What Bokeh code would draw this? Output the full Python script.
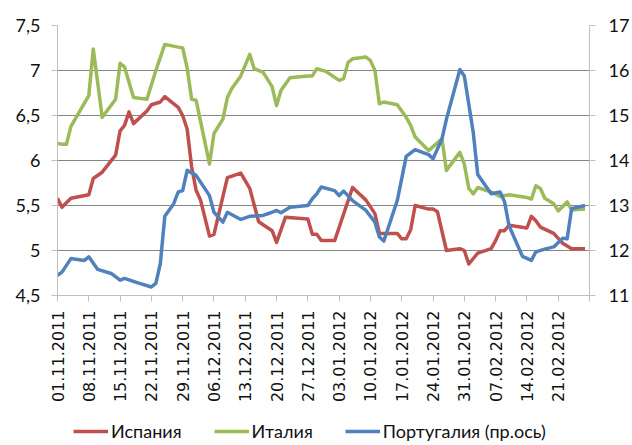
import pandas as pd
from bokeh.plotting import figure
from bokeh.layouts import column
from bokeh.models import Range1d, LinearAxis, FixedTicker, DatetimeTickFormatter, Legend, LegendItem
from bokeh.embed import file_html
from bokeh.resources import INLINE

# ---------------- data ----------------
spain_dates = ["2011-11-01", "2011-11-02", "2011-11-04", "2011-11-08", "2011-11-09", "2011-11-11",
               "2011-11-14", "2011-11-15", "2011-11-16", "2011-11-17", "2011-11-18", "2011-11-21",
               "2011-11-22", "2011-11-24", "2011-11-25", "2011-11-28", "2011-11-29", "2011-11-30",
               "2011-12-01", "2011-12-02", "2011-12-03", "2011-12-05", "2011-12-06", "2011-12-09",
               "2011-12-12", "2011-12-14", "2011-12-16", "2011-12-19", "2011-12-20", "2011-12-22",
               "2011-12-27", "2011-12-28", "2011-12-29", "2011-12-30", "2012-01-02", "2012-01-06",
               "2012-01-09", "2012-01-11", "2012-01-12", "2012-01-16", "2012-01-17", "2012-01-18",
               "2012-01-19", "2012-01-20", "2012-01-23", "2012-01-24", "2012-01-25", "2012-01-27",
               "2012-01-30", "2012-01-31", "2012-02-01", "2012-02-03", "2012-02-06", "2012-02-07",
               "2012-02-08", "2012-02-09", "2012-02-10", "2012-02-14", "2012-02-15", "2012-02-16",
               "2012-02-17", "2012-02-20", "2012-02-22", "2012-02-24", "2012-02-27"]
spain_values = [5.58, 5.48, 5.58, 5.62, 5.80, 5.87,
                6.06, 6.33, 6.39, 6.54, 6.41, 6.55,
                6.62, 6.65, 6.71, 6.59, 6.50, 6.35,
                5.93, 5.67, 5.56, 5.16, 5.18, 5.81,
                5.86, 5.69, 5.32, 5.22, 5.09, 5.37,
                5.35, 5.18, 5.18, 5.11, 5.11, 5.70,
                5.56, 5.41, 5.19, 5.19, 5.13, 5.13,
                5.23, 5.50, 5.46, 5.46, 5.43, 5.00,
                5.02, 5.00, 4.85, 4.97, 5.02, 5.11,
                5.22, 5.22, 5.28, 5.25, 5.38, 5.33,
                5.26, 5.19, 5.08, 5.02, 5.02]

italy_dates = ["2011-11-01", "2011-11-02", "2011-11-03", "2011-11-04", "2011-11-08", "2011-11-09",
               "2011-11-11", "2011-11-14", "2011-11-15", "2011-11-16", "2011-11-18", "2011-11-21",
               "2011-11-23", "2011-11-25", "2011-11-28", "2011-11-29", "2011-11-30", "2011-12-01",
               "2011-12-02", "2011-12-05", "2011-12-06", "2011-12-08", "2011-12-09", "2011-12-10",
               "2011-12-12", "2011-12-14", "2011-12-15", "2011-12-17", "2011-12-19", "2011-12-20",
               "2011-12-21", "2011-12-23", "2011-12-27", "2011-12-28", "2011-12-29", "2011-12-31",
               "2012-01-03", "2012-01-04", "2012-01-05", "2012-01-06", "2012-01-09", "2012-01-10",
               "2012-01-11", "2012-01-12", "2012-01-13", "2012-01-16", "2012-01-18", "2012-01-19",
               "2012-01-20", "2012-01-23", "2012-01-26", "2012-01-27", "2012-01-30", "2012-01-31",
               "2012-02-01", "2012-02-02", "2012-02-03", "2012-02-06", "2012-02-08", "2012-02-10",
               "2012-02-14", "2012-02-15", "2012-02-16", "2012-02-17", "2012-02-18", "2012-02-20",
               "2012-02-21", "2012-02-23", "2012-02-24", "2012-02-27"]
italy_values = [6.19, 6.18, 6.18, 6.38, 6.72, 7.24,
                6.48, 6.68, 7.08, 7.04, 6.70, 6.68,
                7.00, 7.29, 7.26, 7.25, 7.03, 6.68,
                6.67, 5.96, 6.30, 6.46, 6.70, 6.80,
                6.94, 7.18, 7.02, 6.98, 6.82, 6.61,
                6.78, 6.92, 6.94, 6.94, 7.02, 6.99,
                6.89, 6.91, 7.09, 7.13, 7.15, 7.11,
                7.00, 6.63, 6.65, 6.62, 6.48, 6.39,
                6.26, 6.11, 6.24, 5.89, 6.09, 5.96,
                5.69, 5.63, 5.70, 5.65, 5.60, 5.62,
                5.59, 5.57, 5.72, 5.69, 5.58, 5.52,
                5.44, 5.54, 5.45, 5.46]

portugal_dates = ["2011-11-01", "2011-11-02", "2011-11-04", "2011-11-07", "2011-11-08", "2011-11-10",
                  "2011-11-13", "2011-11-15", "2011-11-16", "2011-11-19", "2011-11-22", "2011-11-23",
                  "2011-11-24", "2011-11-25", "2011-11-27", "2011-11-28", "2011-11-29", "2011-11-30",
                  "2011-12-02", "2011-12-05", "2011-12-06", "2011-12-08", "2011-12-09", "2011-12-12",
                  "2011-12-14", "2011-12-17", "2011-12-19", "2011-12-20", "2011-12-21", "2011-12-23",
                  "2011-12-27", "2011-12-28", "2011-12-29", "2011-12-30", "2012-01-02", "2012-01-03",
                  "2012-01-04", "2012-01-06", "2012-01-09", "2012-01-11", "2012-01-12", "2012-01-13",
                  "2012-01-16", "2012-01-18", "2012-01-20", "2012-01-23", "2012-01-24", "2012-01-26",
                  "2012-01-27", "2012-01-30", "2012-01-31", "2012-02-02", "2012-02-03", "2012-02-06",
                  "2012-02-08", "2012-02-09", "2012-02-10", "2012-02-13", "2012-02-15", "2012-02-16",
                  "2012-02-18", "2012-02-20", "2012-02-22", "2012-02-23", "2012-02-24", "2012-02-27"]
portugal_values = [11.45, 11.52, 11.82, 11.78, 11.86, 11.58,
                   11.49, 11.34, 11.38, 11.28, 11.19, 11.27,
                   11.71, 12.76, 13.04, 13.30, 13.33, 13.78,
                   13.67, 13.22, 12.85, 12.63, 12.85, 12.69,
                   12.76, 12.78, 12.85, 12.89, 12.84, 12.96,
                   13.00, 13.15, 13.26, 13.41, 13.33, 13.22,
                   13.32, 13.11, 12.89, 12.63, 12.30, 12.21,
                   13.11, 14.09, 14.24, 14.13, 14.04, 14.48,
                   14.92, 16.02, 15.88, 14.62, 13.69, 13.26,
                   13.30, 13.08, 12.55, 11.87, 11.78, 11.97,
                   12.03, 12.08, 12.27, 12.26, 12.93, 13.00]

series_names = ["Испания", "Италия", "Португалия (пр.ось)"]
series_colors = ["#C0504D", "#9BBB59", "#4F81BD"]

x_tick_dates = ["2011-11-01", "2011-11-08", "2011-11-15", "2011-11-22", "2011-11-29",
                "2011-12-06", "2011-12-13", "2011-12-20", "2011-12-27", "2012-01-03",
                "2012-01-10", "2012-01-17", "2012-01-24", "2012-01-31", "2012-02-07",
                "2012-02-14", "2012-02-21"]
x_end_date = "2012-02-28"

left_ticks = [4.5, 5, 5.5, 6, 6.5, 7, 7.5]
left_labels = ["4,5", "5", "5,5", "6", "6,5", "7", "7,5"]
right_ticks = [11, 12, 13, 14, 15, 16, 17]
right_labels = ["11", "12", "13", "14", "15", "16", "17"]


def ms(s):
    return int(pd.Timestamp(s).value // 10**6)


LINE_W = 3.5
axis_col = "#BFBFBF"
label_col = "#111111"

series = [
    ([pd.Timestamp(d) for d in spain_dates], spain_values),
    ([pd.Timestamp(d) for d in italy_dates], italy_values),
    ([pd.Timestamp(d) for d in portugal_dates], portugal_values),
]

# ---------------- main chart ----------------
p = figure(width=632, height=417, x_axis_type="datetime",
           output_backend="svg", toolbar_location=None,
           x_range=Range1d(ms(x_tick_dates[0]), ms(x_end_date)),
           y_range=Range1d(left_ticks[0], left_ticks[-1]),
           min_border_left=57, min_border_right=41, min_border_top=25, min_border_bottom=122)
p.extra_y_ranges = {"right": Range1d(right_ticks[0], right_ticks[-1])}
p.outline_line_color = None
p.background_fill_color = "white"
p.border_fill_color = "white"

# x axis
xa = p.xaxis[0]
xa.ticker = FixedTicker(ticks=[ms(d) for d in x_tick_dates], minor_ticks=[ms(x_end_date)])
xa.formatter = DatetimeTickFormatter(days="%d.%m.%Y", months="%d.%m.%Y", years="%d.%m.%Y")
xa.major_label_orientation = 3.14159265 / 2
xa.axis_line_color = axis_col
xa.major_tick_line_color = axis_col
xa.minor_tick_line_color = axis_col
xa.major_tick_in = 0
xa.major_tick_out = 6
xa.minor_tick_in = 0
xa.minor_tick_out = 6
xa.major_label_standoff = 9
xa.major_label_text_font = "DejaVu Sans"
xa.major_label_text_font_size = "16px"
xa.major_label_text_color = label_col

# left axis
ya = p.yaxis[0]
ya.ticker = FixedTicker(ticks=left_ticks, minor_ticks=[])
ya.major_label_overrides = {t: l for t, l in zip(left_ticks, left_labels)}
ya.axis_line_color = axis_col
ya.major_tick_line_color = axis_col
ya.major_tick_in = 0
ya.major_tick_out = 6
ya.minor_tick_line_color = None
ya.major_label_standoff = 11
ya.major_label_text_font = "Lato"
ya.major_label_text_font_size = "18px"
ya.major_label_text_color = label_col

# right axis
ra = LinearAxis(y_range_name="right")
ra.ticker = FixedTicker(ticks=right_ticks, minor_ticks=[])
ra.major_label_overrides = {t: l for t, l in zip(right_ticks, right_labels)}
ra.axis_line_color = axis_col
ra.major_tick_line_color = axis_col
ra.major_tick_in = 0
ra.major_tick_out = 6
ra.minor_tick_line_color = None
ra.major_label_standoff = 13
ra.major_label_text_font = "Lato"
ra.major_label_text_font_size = "18px"
ra.major_label_text_color = label_col
p.add_layout(ra, "right")

p.xgrid.visible = False
p.ygrid.grid_line_color = "#868686"
p.ygrid.grid_line_width = 1

for i, (xs, ys) in enumerate(series):
    kw = {"y_range_name": "right"} if i == 2 else {}
    p.line(xs, ys, line_color=series_colors[i], line_width=LINE_W, line_join="round", **kw)

# ---------------- legend strip below the chart ----------------
# The same series are attached to a strip whose ranges lie outside the data,
# so only the legend (with its line samples) is visible there.
leg = figure(width=632, height=28, output_backend="svg", toolbar_location=None,
             x_axis_location=None, y_axis_location=None,
             x_range=Range1d(0, 1), y_range=Range1d(0, 1),
             min_border_left=0, min_border_right=0, min_border_top=0, min_border_bottom=0)
leg.outline_line_color = None
leg.xgrid.visible = False
leg.ygrid.visible = False
leg_items = []
for i, (xs, ys) in enumerate(series):
    r = leg.line(xs, ys, line_color=series_colors[i], line_width=LINE_W)
    leg_items.append(LegendItem(label=series_names[i], renderers=[r]))

legend = Legend(items=leg_items, orientation="horizontal", location="left",
                padding=0, margin=16, spacing=32,
                glyph_width=35, glyph_height=20, label_height=20, label_standoff=3,
                label_text_font="Lato", label_text_font_size="18px",
                label_text_color=label_col,
                border_line_color=None, background_fill_alpha=0)
leg.add_layout(legend, "center")

layout = column(p, leg, spacing=0)
open("out.html", "w").write(file_html(layout, INLINE))
